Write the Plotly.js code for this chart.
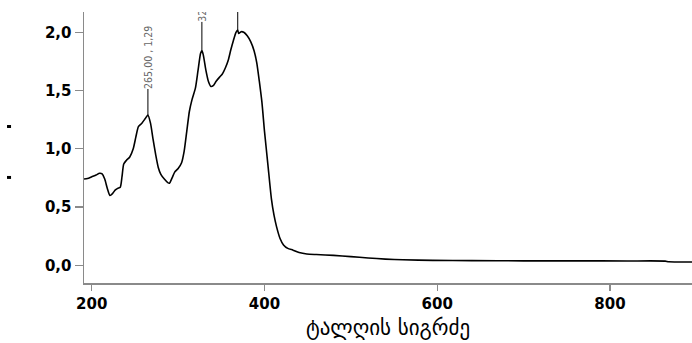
<!DOCTYPE html>
<html>
<head>
<meta charset="utf-8">
<script src="https://cdn.plot.ly/plotly-3.0.1.min.js"></script>
<style>
html,body{margin:0;padding:0;background:#fff;width:692px;height:343px;overflow:hidden;position:relative;}
#chart{position:absolute;left:0;top:-88px;width:692px;height:431px;}
#topmask{position:absolute;left:0;top:0;width:692px;height:12px;background:#fff;z-index:10;}
</style>
</head>
<body>
<div id="chart"></div>
<div id="topmask"></div>
<script>
// Absorbance spectrum (wavelength nm, absorbance)
const wavelength = [191,195,200,205,209,212,215,218,221,224,227,230,233,235,237,240,244,248,251,254,258,262,265,268,271,274,277,280,284,288,290,293,296,300,304,307,310,313,316,320,323,326,327.5,329,332,335,338,341,344,348,351,355,358,361,364,367,369,370,373,376,380,384,388,391,394,397,400,404,408,411,414,418,422,427,433,440,449,460,480,500,520,540,560,595,640,700,760,820,864,868,895];
const absorbance = [0.74,0.745,0.76,0.775,0.79,0.785,0.74,0.66,0.60,0.615,0.645,0.66,0.67,0.76,0.87,0.90,0.93,1.00,1.10,1.19,1.22,1.26,1.29,1.22,1.08,0.95,0.84,0.78,0.74,0.71,0.705,0.75,0.80,0.83,0.88,0.98,1.15,1.32,1.42,1.52,1.67,1.82,1.84,1.81,1.68,1.58,1.535,1.545,1.58,1.615,1.64,1.70,1.76,1.85,1.93,2.00,2.02,1.99,2.005,2.00,1.97,1.92,1.84,1.74,1.58,1.40,1.15,0.86,0.57,0.43,0.33,0.23,0.175,0.145,0.13,0.11,0.097,0.092,0.085,0.074,0.063,0.053,0.047,0.042,0.04,0.038,0.038,0.037,0.036,0.03,0.028];

// Peak labels
const peakX = [265, 327.5, 369];
const peakY = [1.29, 1.84, 2.02];
const peakLabels = ["265,00 , 1,29", "327,50 , 1,84", "369,00 , 2,02"];
const peakOffsets = [-58, -61, -58];

const xTitle = "ტალღის სიგრძე";

const gray = "#8a8a8a";

const annotations = peakX.map((x, i) => ({
  x: x, y: peakY[i], xref: "x", yref: "y",
  text: peakLabels[i], textangle: -90,
  showarrow: true, arrowhead: 0, arrowwidth: 1, arrowcolor: "#000",
  ax: 0, ay: peakOffsets[i], standoff: 0, borderpad: 0,
  font: {family: "Liberation Sans Narrow, DejaVu Sans Condensed, sans-serif", size: 10.5, color: "#666"}
}));

// plot area: paper y from 0 (bottom, page y 283) to 1 (top, page y 12); height 271 px
const shapes = [
  {type: "rect", xref: "paper", yref: "paper", x0: -0.1266, x1: -0.12, y0: 0.572, y1: 0.583, fillcolor: "#000", line: {width: 0}},
  {type: "rect", xref: "paper", yref: "paper", x0: -0.1266, x1: -0.12, y0: 0.384, y1: 0.395, fillcolor: "#000", line: {width: 0}}
];

const trace = {
  x: wavelength, y: absorbance, type: "scatter", mode: "lines",
  line: {color: "#000", width: 1.6, shape: "spline", smoothing: 0.6},
  hoverinfo: "skip"
};

const layout = {
  width: 692, height: 431,
  margin: {l: 84, r: 0, t: 100, b: 60, pad: 0},
  paper_bgcolor: "#fff", plot_bgcolor: "#fff",
  separators: ",.",
  showlegend: false,
  xaxis: {
    range: [191, 895], dtick: 200, tick0: 200,
    showgrid: false, zeroline: false,
    showline: true, linecolor: gray, linewidth: 1.5,
    ticks: "outside", ticklen: 6, tickcolor: gray, tickwidth: 1.2,
    tickfont: {family: "DejaVu Sans, sans-serif", size: 15, color: "#000", weight: "bold"},
    title: {text: xTitle, font: {family: "DejaVu Sans, sans-serif", size: 21, color: "#000"}, standoff: 9}
  },
  yaxis: {
    range: [-0.152, 2.174], dtick: 0.5, tick0: 0, tickformat: ".1f",
    showgrid: false, zeroline: false,
    showline: true, linecolor: gray, linewidth: 1.5,
    ticks: "outside", ticklen: 8, tickcolor: gray, tickwidth: 1.2,
    tickfont: {family: "DejaVu Sans, sans-serif", size: 15, color: "#000", weight: "bold"}
  },
  annotations: annotations,
  shapes: shapes
};

Plotly.newPlot("chart", [trace], layout, {staticPlot: true, displayModeBar: false});
</script>
</body>
</html>
